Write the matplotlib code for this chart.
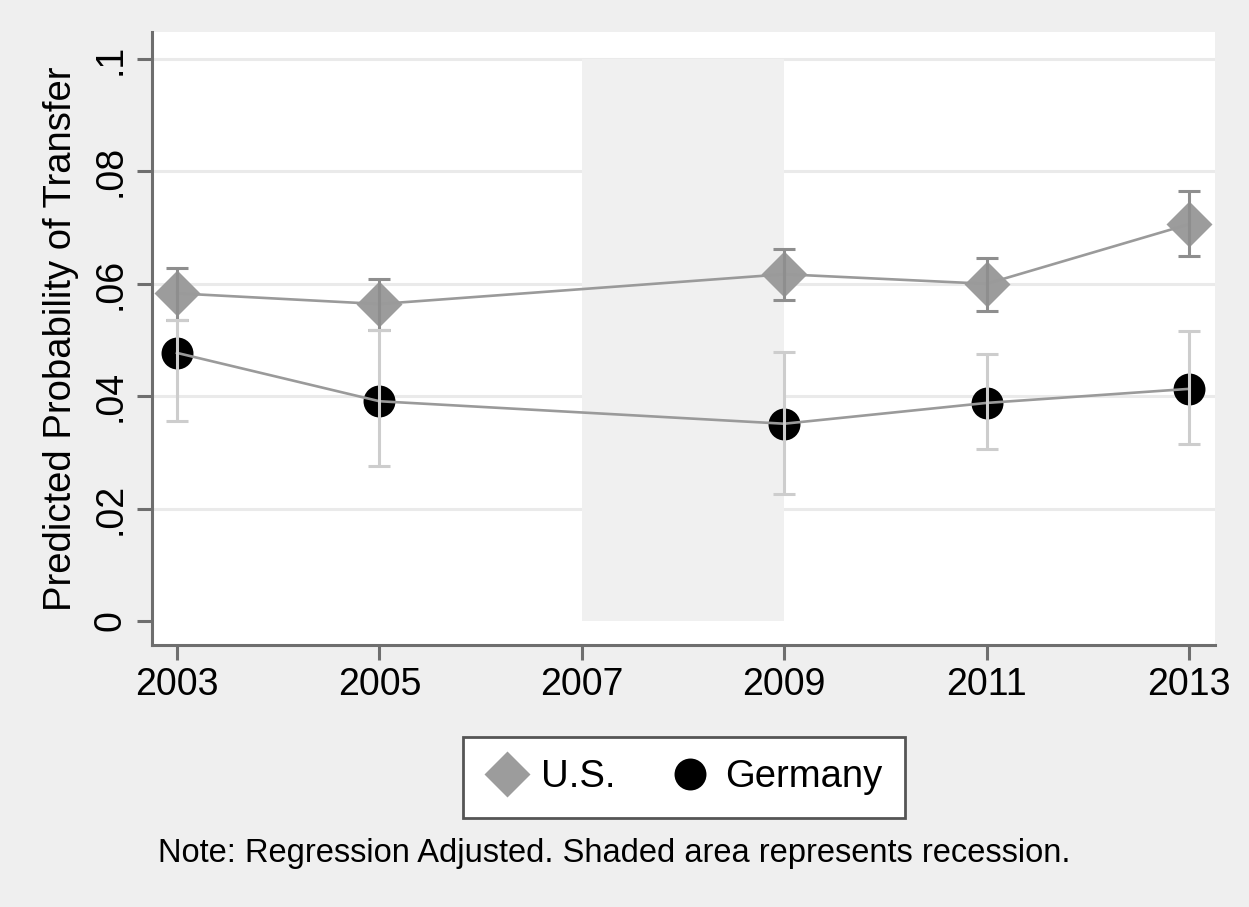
import matplotlib.pyplot as plt
import numpy as np

plt.rcParams['font.family'] = ['Liberation Sans', 'DejaVu Sans']

# predicted probabilities with 95% bounds
years = [2003, 2005, 2009, 2011, 2013]
us = [0.0583, 0.0564, 0.0617, 0.0600, 0.0706]
us_lo = [0.0536, 0.0518, 0.0571, 0.0552, 0.0649]
us_hi = [0.0628, 0.0609, 0.0662, 0.0646, 0.0765]
de = [0.0477, 0.0391, 0.0351, 0.0388, 0.0413]
de_lo = [0.0356, 0.0276, 0.0226, 0.0306, 0.0315]
de_hi = [0.0536, 0.0518, 0.0479, 0.0475, 0.0516]

recession = (2007, 2009)
xticks = [2003, 2005, 2007, 2009, 2011, 2013]
yticks = [0, 0.02, 0.04, 0.06, 0.08, 0.1]
ylabels = ['0', '.02', '.04', '.06', '.08', '.1']

bg = '#efefef'
axcol = '#6e6e6e'

fig = plt.figure(figsize=(12.49, 9.07), dpi=100, facecolor=bg)
ax = fig.add_axes([0.1217, 0.2889, 0.8511, 0.6758])
ax.set_facecolor('white')

# light horizontal grid
for y in yticks[1:]:
    ax.axhline(y, color='#eaeaea', lw=2.2, zorder=0.5)

# recession shading
ax.fill_between(recession, 0, 0.1, color='#f0f0f0', lw=0, zorder=1)

yrs = np.array(years)
ax.plot(yrs, us, ls='none', marker='D', ms=23, color='#9c9c9c', mec='none', zorder=2)
ax.plot(yrs, de, ls='none', marker='o', ms=23, color='black', mec='none', zorder=2)

ax.plot(yrs, us, color='#9a9a9a', lw=1.9, zorder=3)
ax.plot(yrs, de, color='#9a9a9a', lw=1.9, zorder=3)

us_err = [np.array(us) - np.array(us_lo), np.array(us_hi) - np.array(us)]
de_err = [np.array(de) - np.array(de_lo), np.array(de_hi) - np.array(de)]
ax.errorbar(yrs, us, yerr=us_err, fmt='none', ecolor='#8e8e8e', elinewidth=2.2,
            capsize=8, capthick=2.2, zorder=3)
ax.errorbar(yrs, de, yerr=de_err, fmt='none', ecolor='#cdcdcd', elinewidth=2.2,
            capsize=8, capthick=2.2, zorder=3)

ax.set_xlim(2002.753, 2013.257)
ax.set_ylim(-0.00427, 0.1048)
ax.set_xticks(xticks)
ax.set_xticklabels([str(x) for x in xticks])
ax.set_yticks(yticks)
ax.set_yticklabels(ylabels, rotation=90, va='center')

for s in ['top', 'right']:
    ax.spines[s].set_visible(False)
for s in ['left', 'bottom']:
    ax.spines[s].set_color(axcol)
    ax.spines[s].set_linewidth(2.2)
ax.tick_params(axis='both', colors=axcol, length=11, width=2.2, labelsize=27,
               labelcolor='black')
ax.tick_params(axis='x', pad=5)
ax.tick_params(axis='y', pad=6)

ax.set_ylabel('Predicted Probability of Transfer', fontsize=27.5, labelpad=10)

h1 = plt.Line2D([], [], ls='none', marker='D', ms=23, color='#9c9c9c', mec='none')
h2 = plt.Line2D([], [], ls='none', marker='o', ms=23, color='black', mec='none')
leg = fig.legend([h1, h2], ['U.S.', 'Germany'], loc='center',
                 bbox_to_anchor=(0.5476, 0.1428), ncol=2, fontsize=27.5,
                 frameon=True, fancybox=False, edgecolor='#555555', framealpha=1,
                 handletextpad=0.35, columnspacing=1.4, handlelength=1.1,
                 borderpad=0.6)
leg.get_frame().set_linewidth(2)
leg.get_frame().set_facecolor('white')

fig.text(0.1265, 0.0595, 'Note: Regression Adjusted. Shaded area represents recession.',
         fontsize=23.5, va='center', ha='left')

fig.savefig('out.png', dpi=100, facecolor=bg)
